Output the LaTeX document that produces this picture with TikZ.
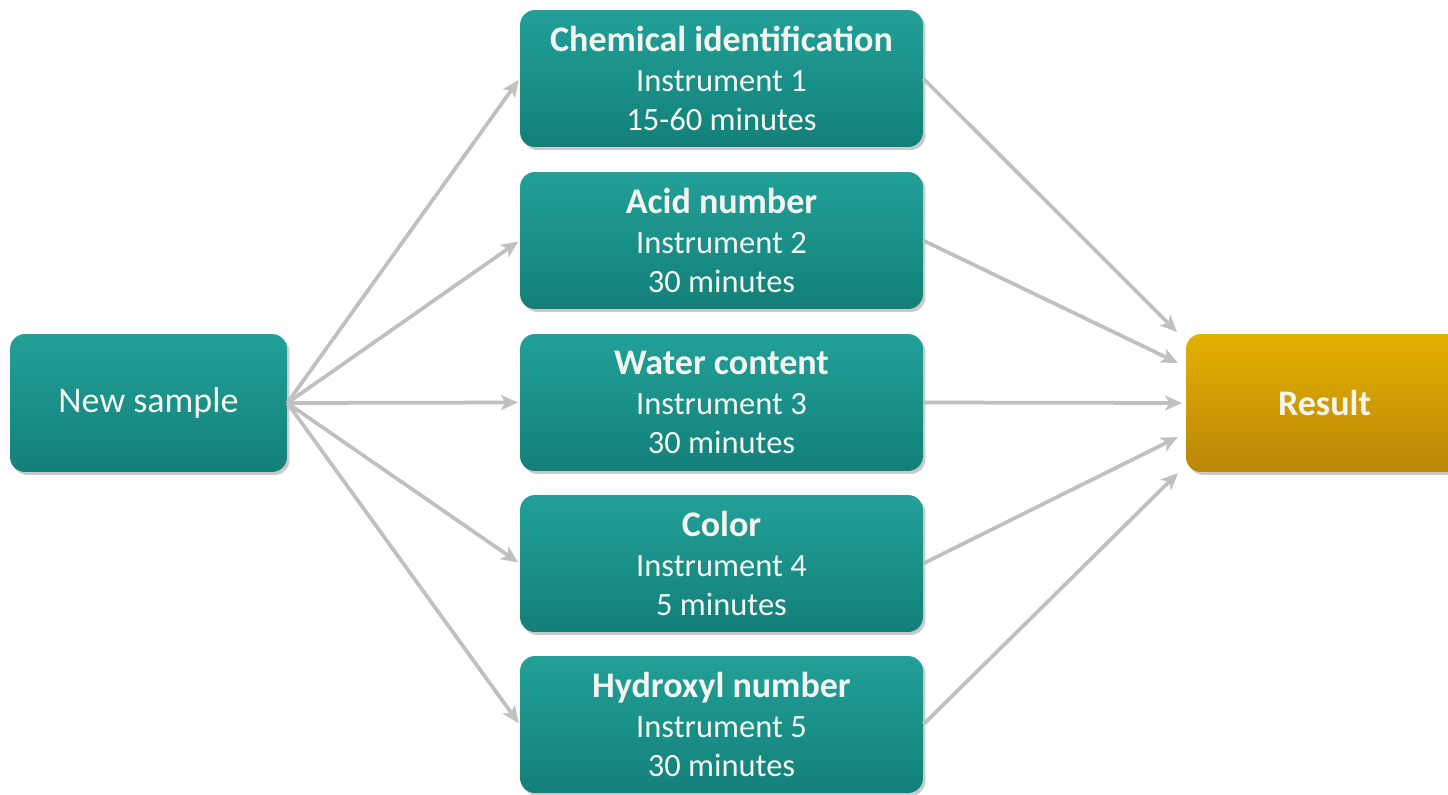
\documentclass[tikz,border=0pt]{standalone}
\usepackage{fontspec}
\setmainfont{Carlito}
\usetikzlibrary{arrows.meta,shadows,calc}
\definecolor{tealtop}{RGB}{34,160,152}
\definecolor{tealbot}{RGB}{18,128,121}
\definecolor{goldtop}{RGB}{228,176,0}
\definecolor{goldbot}{RGB}{186,134,8}
\definecolor{arrowgray}{RGB}{192,192,190}
\definecolor{txt}{RGB}{245,245,240}
\newcommand{\ttl}[1]{{\fontsize{20.5}{22.5}\selectfont\bfseries #1}}
\begin{document}
\begin{tikzpicture}[x=0.02cm,y=-0.02cm,
  box/.style={rounded corners=0.3cm, top color=tealtop, bottom color=tealbot,
    draw=none, text=txt, align=center, inner sep=0pt,
    font=\fontsize{18.5}{22.3}\selectfont,
    drop shadow={shadow xshift=0.05cm, shadow yshift=-0.06cm, opacity=0.35, fill=black!60}},
  midbox/.style={box, minimum width=8.06cm, minimum height=2.74cm},
  sidebox/.style={box, minimum width=5.54cm, minimum height=2.76cm, font=\fontsize{20.5}{24}\selectfont},
  goldbox/.style={sidebox, top color=goldtop, bottom color=goldbot},
  conn/.style={draw=arrowgray, line width=0.075cm,
    -{Stealth[length=0.34cm, width=0.3cm, inset=0.09cm]}}]
\useasboundingbox (0,0) rectangle (1448,795);
\clip (0,0) rectangle (1448,795);

\node[sidebox] (ns) at (148.5,403) {New sample};
\node[midbox] (b1) at (721.5,78.5) {\ttl{Chemical identification}\\Instrument 1\\15-60 minutes};
\node[midbox] (b2) at (721.5,240.5) {\ttl{Acid number}\\Instrument 2\\30 minutes};
\node[midbox] (b3) at (721.5,402.5) {\ttl{Water content}\\Instrument 3\\30 minutes};
\node[midbox] (b4) at (721.5,563.5) {\ttl{Color}\\Instrument 4\\5 minutes};
\node[midbox] (b5) at (721.5,724.5) {\ttl{Hydroxyl number}\\Instrument 5\\30 minutes};
\node[goldbox] (res) at (1324.5,403) {\textbf{Result}};

\coordinate (r1) at (1177,332);
\coordinate (r2) at (1178,363);
\coordinate (r3) at (1182,403);
\coordinate (r4) at (1178,437);
\coordinate (r5) at (1178,473);

\foreach \b in {b1,b2,b3,b4,b5}{
  \draw[conn, shorten >=1pt] (ns.east) -- (\b.west);
}
\draw[conn] (b1.east) -- (r1);
\draw[conn] (b2.east) -- (r2);
\draw[conn] (b3.east) -- (r3);
\draw[conn] (b4.east) -- (r4);
\draw[conn] (b5.east) -- (r5);
\end{tikzpicture}
\end{document}
